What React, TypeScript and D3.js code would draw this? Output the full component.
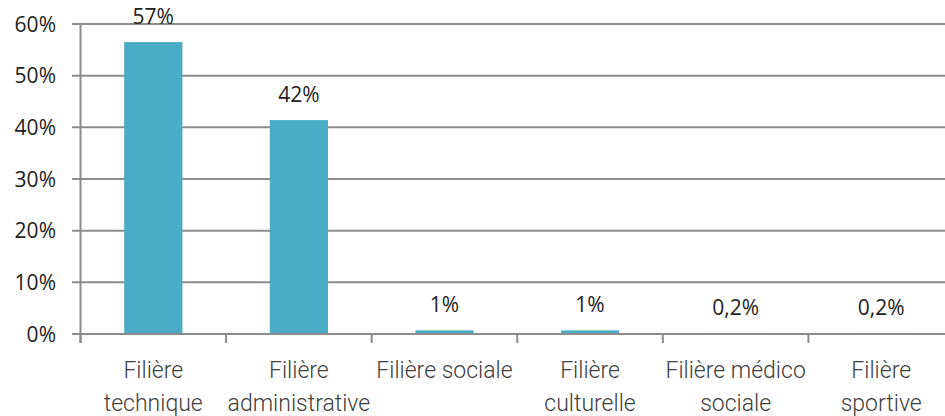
import React from "react";
import * as d3 from "d3";

const categories: string[][] = [
  ["Filière", "technique"],
  ["Filière", "administrative"],
  ["Filière sociale"],
  ["Filière", "culturelle"],
  ["Filière médico", "sociale"],
  ["Filière", "sportive"],
];
const values = [56.5, 41.4, 0.7, 0.7, 0.2, 0.2];
const labels = ["57%", "42%", "1%", "1%", "0,2%", "0,2%"];
const yTicks = [0, 10, 20, 30, 40, 50, 60];

export default function App() {
  const W = 945, H = 416;
  const left = 80.5, right = 954, top = 24, bottom = 334;
  const x = d3.scaleBand<number>().domain(d3.range(values.length)).range([left, right]).paddingInner(0.6).paddingOuter(0.3);
  const step = (right - left) / values.length;
  const y = d3.scaleLinear().domain([0, 60]).range([bottom, top]);
  const grid = "#8c8c8c";
  const font = "'Open Sans', sans-serif";
  const catFont = "Roboto, sans-serif";
  return (
    <svg width={W} height={H} style={{ position: "absolute", left: 0, top: 0, background: "#fff" }}>
      {yTicks.map((t) => (
        <g key={t}>
          <line x1={72} x2={W} y1={y(t)} y2={y(t)} stroke={grid} strokeWidth={2} />
          <text x={56} y={y(t)} dy="0.36em" textAnchor="end" fontSize={21} fontFamily={font} fill="#222">{t}%</text>
        </g>
      ))}
      <line x1={left} x2={left} y1={top} y2={bottom + 9} stroke={grid} strokeWidth={2} />
      {d3.range(values.length + 1).map((i) => (
        <line key={i} x1={left + i * step} x2={left + i * step} y1={bottom} y2={bottom + 9} stroke={grid} strokeWidth={2} />
      ))}
      {values.map((v, i) => (
        <rect key={i} x={x(i)!} width={x.bandwidth()} y={y(v)} height={y(0) - y(v)} fill="#4BACC6" />
      ))}
      <line x1={left} x2={W} y1={bottom} y2={bottom} stroke={grid} strokeWidth={2} />
      {values.map((v, i) => (
        <text key={i} x={x(i)! + x.bandwidth() / 2} y={y(v) - 26} dy="0.36em" textAnchor="middle" fontSize={21} fontFamily={font} fill="#222">{labels[i]}</text>
      ))}
      {categories.map((lines, i) => (
        <text key={i} x={x(i)! + x.bandwidth() / 2} y={370} textAnchor="middle" fontSize={23} fontWeight={300} fontFamily={catFont} fill="#404040">
          {lines.map((l, j) => (
            <tspan key={j} x={x(i)! + x.bandwidth() / 2} dy={j === 0 ? "0.36em" : 33}>{l}</tspan>
          ))}
        </text>
      ))}
    </svg>
  );
}
